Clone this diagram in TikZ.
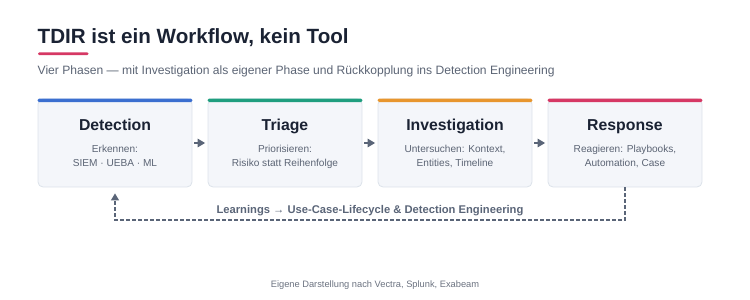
\documentclass[tikz,border=0pt]{standalone}
\usepackage{fontspec}
\setmainfont{Liberation Sans}
\usetikzlibrary{arrows.meta,calc}
\definecolor{ink}{HTML}{1A2233}
\definecolor{subg}{HTML}{5B6474}
\definecolor{boxfill}{HTML}{F4F6FA}
\definecolor{boxline}{HTML}{DCE2EA}
\definecolor{arrowc}{HTML}{5A6578}
\definecolor{cblue}{HTML}{3B6FD0}
\definecolor{cgreen}{HTML}{1F9E7F}
\definecolor{corange}{HTML}{E8962E}
\definecolor{cred}{HTML}{D63864}
\definecolor{footg}{HTML}{6B7280}
\begin{document}
\begin{tikzpicture}[x=1pt,y=-1pt,
  box/.style={draw=boxline,line width=0.8pt,fill=boxfill,rounded corners=5pt,minimum width=154pt,minimum height=88pt,inner sep=0pt},
  boxtitle/.style={font=\fontsize{15.8}{18}\selectfont\bfseries,text=ink,anchor=base,inner sep=0pt},
  boxsub/.style={font=\fontsize{10.1}{13}\selectfont,text=subg,anchor=base,inner sep=0pt},
  flow/.style={draw=arrowc,line width=1.6pt,-{Triangle[length=7.5pt,width=8.5pt]}},
  feedback/.style={draw=arrowc,line width=1.2pt,dash pattern=on 3.5pt off 2.5pt,-{Triangle[length=7pt,width=8pt]}}
]
\useasboundingbox (0,0) rectangle (750,300);
% title
\node[anchor=base west,inner sep=0pt,font=\fontsize{20.6}{24}\selectfont\bfseries,text=ink] (title) at (37.5,43.5) {TDIR ist ein Workflow, kein Tool};
\fill[cred,rounded corners=1.2pt] (38,52.3) rectangle (88.5,55);
\node[anchor=base west,inner sep=0pt,font=\fontsize{12.1}{14}\selectfont,text=subg] (subtitle) at (37.5,74.2) {Vier Phasen — mit Investigation als eigener Phase und Rückkopplung ins Detection Engineering};
% boxes
\node[box] (det) at (115,143) {};
\node[box] (tri) at (285,143) {};
\node[box] (inv) at (455,143) {};
\node[box] (res) at (625,143) {};
\foreach \n/\c in {det/cblue,tri/cgreen,inv/corange,res/cred}{
  \fill[\c,rounded corners=1.5pt] (\n.north west) rectangle ($(\n.north east)+(0,3.5)$);
}
\node[boxtitle] (detT) at (115,130.8) {Detection};
\node[boxsub] (detS1) at (115,152.8) {Erkennen:};
\node[boxsub] (detS2) at (115,166.2) {SIEM · UEBA · ML};
\node[boxtitle] (triT) at (285,130.8) {Triage};
\node[boxsub] (triS1) at (285,152.8) {Priorisieren:};
\node[boxsub] (triS2) at (285,166.2) {Risiko statt Reihenfolge};
\node[boxtitle] (invT) at (455,130.8) {Investigation};
\node[boxsub] (invS1) at (455,152.8) {Untersuchen: Kontext,};
\node[boxsub] (invS2) at (455,166.2) {Entities, Timeline};
\node[boxtitle] (resT) at (625,130.8) {Response};
\node[boxsub] (resS1) at (625,152.8) {Reagieren: Playbooks,};
\node[boxsub] (resS2) at (625,166.2) {Automation, Case};
% flow arrows
\draw[flow] ($(det.east)+(2,0)$) -- ($(tri.west)+(-2.5,0)$);
\draw[flow] ($(tri.east)+(2,0)$) -- ($(inv.west)+(-2.5,0)$);
\draw[flow] ($(inv.east)+(2,0)$) -- ($(res.west)+(-2.5,0)$);
% feedback
\coordinate (fbturn) at (625,220);
\draw[feedback] (res.south) -- (fbturn) -| ($(det.south)+(0,6)$);
\node[anchor=base,inner sep=0pt,font=\fontsize{11.2}{13}\selectfont\bfseries,text=arrowc] (fblabel) at (370,213.5) {Learnings → Use-Case-Lifecycle \& Detection Engineering};
% footer
\node[anchor=base,inner sep=0pt,font=\fontsize{9.3}{11}\selectfont,text=footg] (footer) at (375,287.2) {Eigene Darstellung nach Vectra, Splunk, Exabeam};
\end{tikzpicture}
\end{document}
